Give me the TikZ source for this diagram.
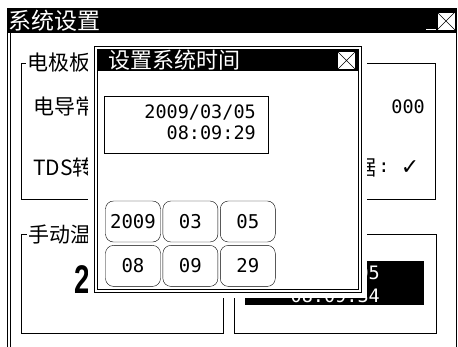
\documentclass[tikz,border=0pt]{standalone}
\usepackage{fontspec}
\setmainfont{Liberation Sans}
\newfontfamily\cjk{Noto Sans CJK SC}
\newfontfamily\digits{DejaVu Sans Mono}
\newfontfamily\symb{DejaVu Sans}
\usetikzlibrary{positioning}

\tikzset{
  wintitle/.style={anchor=west, text=white, inner sep=0pt, font=\cjk\fontsize{23}{25}\selectfont},
  grouplabel/.style={anchor=west, fill=white, inner sep=1pt, font=\cjk\fontsize{21}{23}\selectfont},
  itemtext/.style={anchor=west, inner sep=0pt, font=\cjk\fontsize{21}{23}\selectfont},
  numtext/.style={inner sep=0pt, font=\digits\fontsize{18.5}{20}\selectfont},
  keybtn/.style={draw, rounded corners=8pt, minimum width=55pt, minimum height=41pt,
    inner sep=0pt, font=\digits\fontsize{19}{20}\selectfont},
  closebox/.style={draw, fill=white, minimum size=18pt, inner sep=0pt,
    path picture={\draw (path picture bounding box.south west) -- (path picture bounding box.north east)
      (path picture bounding box.north west) -- (path picture bounding box.south east);}},
}

\begin{document}
\begin{tikzpicture}[x=1pt,y=-1pt]
\useasboundingbox (0,0) rectangle (458,346);
\clip (0,0) rectangle (458,346);
\fill[white] (0,0) rectangle (458,346);

% main window
\draw (7,8) rectangle (456,360);
\draw (10,33) -- (10,360);
\fill (7,8) rectangle (456,33);
\node[wintitle] (maintitle) at (8,21) {系统设置};
\node[closebox] (mainclose) at (446,21) {};
\draw[white] (426,29) -- (436,29);

% electrode group
\draw (21,63) rectangle (435,199);
\node[grouplabel] (grpelec) at (26,63) {电极板};
\node[itemtext] (condlbl) at (33,107) {电导常数};
\node[numtext, anchor=east] (condval) at (425,107) {000};
\node[itemtext] (tdslbl) at (33,168) {TDS转换};
\node[itemtext] (basislbl) at (355,168) {据};
\node[numtext] (basiscolon) at (384,168) {:};
\node[font=\symb\fontsize{22}{24}\selectfont, inner sep=0pt] (tick) at (410,168) {✓};

% manual temperature group
\draw (21,234) rectangle (223,333);
\node[grouplabel] (grpmanual) at (27,234) {手动温度};
\node[font=\bfseries\fontsize{40}{40}\selectfont, xscale=0.7, inner sep=0pt] (tempval) at (82,280) {2};

% clock group
\draw (234,234) rectangle (436,333);
\fill (245,261) rectangle (424,305);
\node[numtext, text=white, anchor=east] (clockdate) at (380,273) {2009/03/05};
\node[numtext, text=white, anchor=east] (clocktime) at (380,296) {08:09:34};

% time dialog
\fill[white] (88,40) rectangle (367,298);
\draw (94,46) rectangle (361,292);
\draw (97,49) rectangle (358,289);
\fill (97,49) rectangle (358,71);
\node[wintitle, font=\cjk\fontsize{22}{24}\selectfont] (dlgtitle) at (108,60) {设置系统时间};
\node[closebox] (dlgclose) at (346.5,60.5) {};
\draw (104,96) rectangle (268,153);
\node[numtext, anchor=east] (dlgdate) at (256,112) {2009/03/05};
\node[numtext, anchor=east] (dlgtime) at (256,133) {08:09:29};

% keys
\node[keybtn] (year) at (133,221.5) {2009};
\node[keybtn, right=2pt of year] (month) {03};
\node[keybtn, right=2pt of month] (day) {05};
\node[keybtn, below=3pt of year] (hour) {08};
\node[keybtn, right=2pt of hour] (minute) {09};
\node[keybtn, right=2pt of minute] (second) {29};
\end{tikzpicture}
\end{document}
